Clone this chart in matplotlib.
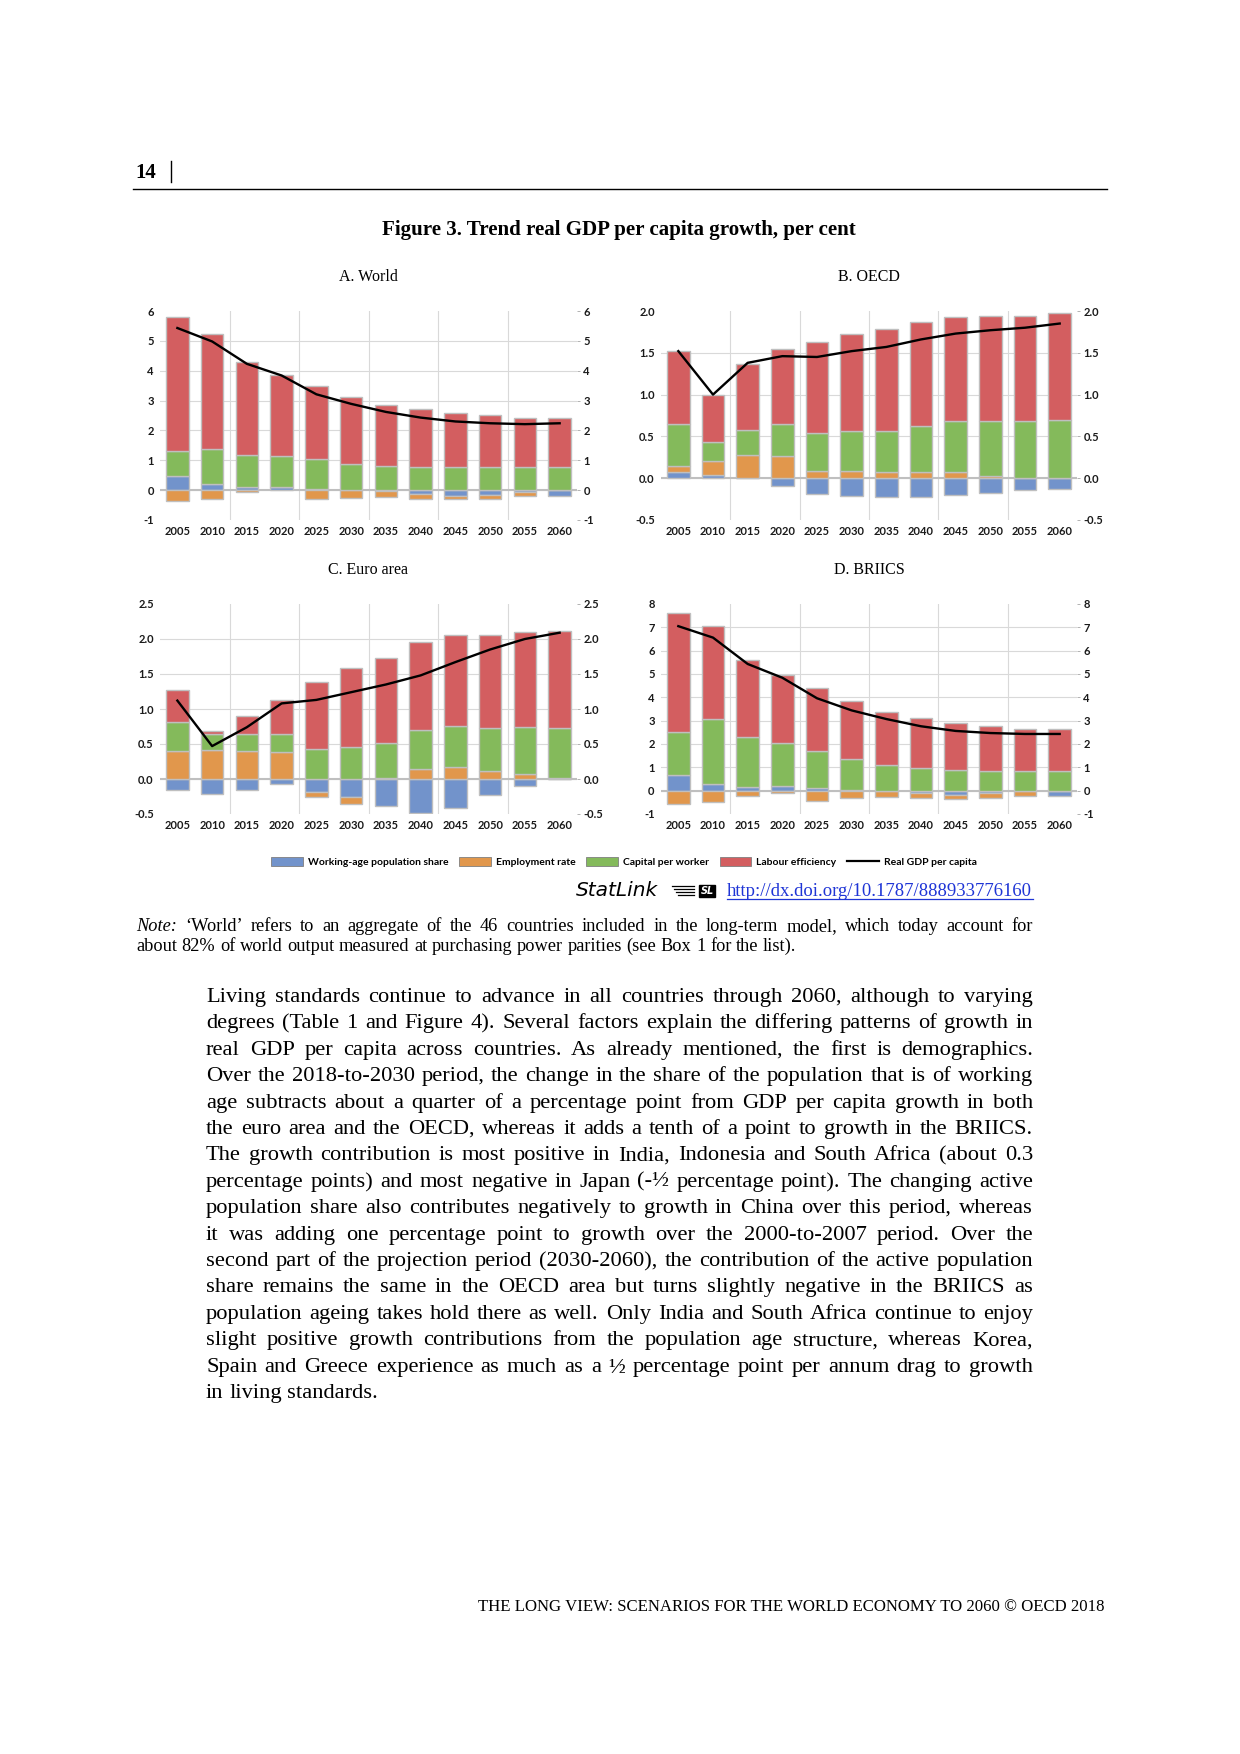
import numpy as np
import matplotlib
matplotlib.use("Agg")
import matplotlib.pyplot as plt
from matplotlib.lines import Line2D
from matplotlib.patches import Patch

plt.rcParams["axes.unicode_minus"] = False

# ---- data ----
years = ["2005", "2010", "2015", "2020", "2025", "2030",
         "2035", "2040", "2045", "2050", "2055", "2060"]

world_pop = [0.49, 0.21, 0.12, 0.11, 0.05, -0.01, -0.02, -0.13, -0.21, -0.15, -0.07, -0.21]
world_emp = [-0.38, -0.31, -0.07, 0.0, -0.30, -0.25, -0.22, -0.16, -0.10, -0.13, -0.14, 0.0]
world_cap = [0.83, 1.17, 1.07, 1.05, 1.00, 0.89, 0.82, 0.78, 0.76, 0.76, 0.76, 0.78]
world_lab = [4.48, 3.86, 3.11, 2.70, 2.44, 2.23, 2.03, 1.94, 1.83, 1.76, 1.66, 1.64]
world_gdp = [5.43, 4.98, 4.23, 3.84, 3.21, 2.89, 2.62, 2.43, 2.30, 2.24, 2.21, 2.24]

oecd_pop = [0.08, 0.04, 0.0, -0.09, -0.19, -0.21, -0.22, -0.22, -0.20, -0.18, -0.14, -0.13]
oecd_emp = [0.07, 0.17, 0.28, 0.26, 0.09, 0.09, 0.07, 0.08, 0.08, 0.03, 0.0, 0.0]
oecd_cap = [0.50, 0.22, 0.30, 0.39, 0.45, 0.47, 0.50, 0.55, 0.60, 0.65, 0.68, 0.70]
oecd_lab = [0.87, 0.56, 0.79, 0.90, 1.09, 1.17, 1.22, 1.24, 1.25, 1.26, 1.26, 1.28]
oecd_gdp = [1.52, 1.00, 1.38, 1.46, 1.45, 1.52, 1.57, 1.66, 1.73, 1.77, 1.80, 1.85]

euro_pop = [-0.16, -0.22, -0.16, -0.07, -0.19, -0.26, -0.39, -0.49, -0.42, -0.23, -0.10, 0.0]
euro_emp = [0.40, 0.42, 0.40, 0.38, -0.06, -0.09, 0.01, 0.15, 0.17, 0.11, 0.07, 0.02]
euro_cap = [0.42, 0.23, 0.25, 0.27, 0.43, 0.46, 0.51, 0.55, 0.59, 0.62, 0.67, 0.71]
euro_lab = [0.45, 0.03, 0.25, 0.48, 0.95, 1.12, 1.21, 1.25, 1.30, 1.33, 1.36, 1.38]
euro_gdp = [1.12, 0.47, 0.74, 1.08, 1.13, 1.24, 1.35, 1.48, 1.67, 1.85, 2.00, 2.09]

briics_pop = [0.66, 0.28, 0.14, 0.19, 0.10, 0.03, 0.0, -0.10, -0.20, -0.11, -0.03, -0.23]
briics_emp = [-0.57, -0.50, -0.23, -0.10, -0.46, -0.31, -0.29, -0.21, -0.17, -0.20, -0.20, 0.0]
briics_cap = [1.84, 2.79, 2.17, 1.87, 1.61, 1.34, 1.10, 0.99, 0.89, 0.84, 0.84, 0.84]
briics_lab = [5.10, 3.99, 3.29, 2.90, 2.70, 2.46, 2.29, 2.14, 2.02, 1.95, 1.82, 1.82]
briics_gdp = [7.05, 6.56, 5.43, 4.84, 3.96, 3.44, 3.07, 2.76, 2.56, 2.47, 2.43, 2.43]

world_ticks = [-1, 0, 1, 2, 3, 4, 5, 6]
oecd_ticks = [-0.5, 0.0, 0.5, 1.0, 1.5, 2.0]
euro_ticks = [-0.5, 0.0, 0.5, 1.0, 1.5, 2.0, 2.5]
briics_ticks = [-1, 0, 1, 2, 3, 4, 5, 6, 7, 8]

series_names = ["Working-age population share", "Employment rate",
                "Capital per worker", "Labour efficiency"]
line_name = "Real GDP per capita"
colors = ["#7293CB", "#E1974C", "#84BA5B", "#D35E60"]

body_lines = [
    "Living standards continue to advance in all countries through 2060, although to varying",
    "degrees (Table 1 and Figure 4). Several factors explain the differing patterns of growth in",
    "real GDP per capita across countries. As already mentioned, the first is demographics.",
    "Over the 2018-to-2030 period, the change in the share of the population that is of working",
    "age subtracts about a quarter of a percentage point from GDP per capita growth in both",
    "the euro area and the OECD, whereas it adds a tenth of a point to growth in the BRIICS.",
    "The growth contribution is most positive in India, Indonesia and South Africa (about 0.3",
    "percentage points) and most negative in Japan (-\u00bd percentage point). The changing active",
    "population share also contributes negatively to growth in China over this period, whereas",
    "it was adding one percentage point to growth over the 2000-to-2007 period. Over the",
    "second part of the projection period (2030-2060), the contribution of the active population",
    "share remains the same in the OECD area but turns slightly negative in the BRIICS as",
    "population ageing takes hold there as well. Only India and South Africa continue to enjoy",
    "slight positive growth contributions from the population age structure, whereas Korea,",
    "Spain and Greece experience as much as a \u00bd percentage point per annum drag to growth",
    "in living standards.",
]
note_lines = [
    "Note: \u2018World\u2019 refers to an aggregate of the 46 countries included in the long-term model, which today account for",
    "about 82% of world output measured at purchasing power parities (see Box 1 for the list).",
]

W, H = 1240, 1754
fig = plt.figure(figsize=(W / 100, H / 100), dpi=100)
renderer = fig.canvas.get_renderer()
SERIF = "Liberation Serif"
SANS = "Lato"


def fy(y):
    return 1 - y / H


def rect(x0, x1, ytop, ybot):
    return [x0 / W, fy(ybot), (x1 - x0) / W, (ybot - ytop) / H]


def fit(t, width):
    w = t.get_window_extent(renderer).width
    t.set_fontsize(t.get_fontsize() * width / w)


def draw_panel(r, title, comps, gdp, ticks, fmt):
    ax = fig.add_axes(r)
    x = np.arange(len(years))
    pos = np.zeros(len(years))
    neg = np.zeros(len(years))
    for vals, c in zip(comps, colors):
        v = np.array(vals)
        base = np.where(v >= 0, pos, neg)
        ax.bar(x, v, 0.65, bottom=base, color=c, edgecolor="#BFBFBF",
               linewidth=1.0, zorder=2)
        pos += np.where(v > 0, v, 0)
        neg += np.where(v < 0, v, 0)
    ax.plot(x, gdp, color="black", lw=1.7, zorder=4)

    ax.set_xlim(-0.5, len(years) - 0.5)
    ax.set_ylim(ticks[0], ticks[-1])
    for t in ticks[1:-1]:
        ax.axhline(t, color="#D9D9D9", lw=0.8, zorder=0)
    ax.axhline(0, color="#BFBFBF", lw=1.5, zorder=1)
    for v in np.arange(1.5, len(years) - 1, 2):
        ax.axvline(v, color="#D9D9D9", lw=0.8, zorder=0)

    ax.set_xticks(x, years, fontfamily=SANS, fontweight="bold", fontsize=8)
    ax.set_yticks(ticks, [fmt.format(t) for t in ticks],
                  fontfamily=SANS, fontweight="bold", fontsize=8)
    ax.tick_params(axis="x", length=0, pad=4, colors="#1A1A1A")
    ax.tick_params(axis="y", left=False, right=True, labelleft=True,
                   labelright=True, length=2.5, width=0.6, pad=2,
                   color="#A6A6A6", labelcolor="#1A1A1A")
    for s in ax.spines.values():
        s.set_visible(False)

    cx = r[0] + r[2] / 2
    fig.text(cx, fy(title[1]), title[0], ha="center", va="center",
             family=SERIF, fontsize=11.5)
    return ax


L0, L1 = 160, 577
R0, R1 = 661, 1077
draw_panel(rect(L0, L1, 311, 520), ("A. World", 277),
           [world_pop, world_emp, world_cap, world_lab], world_gdp, world_ticks, "{:.0f}")
draw_panel(rect(R0, R1, 311, 520), ("B. OECD", 277),
           [oecd_pop, oecd_emp, oecd_cap, oecd_lab], oecd_gdp, oecd_ticks, "{:.1f}")
draw_panel(rect(L0, L1, 604, 814), ("C. Euro area", 570),
           [euro_pop, euro_emp, euro_cap, euro_lab], euro_gdp, euro_ticks, "{:.1f}")
draw_panel(rect(R0, R1, 604, 814), ("D. BRIICS", 570),
           [briics_pop, briics_emp, briics_cap, briics_lab], briics_gdp, briics_ticks, "{:.0f}")

# legend
handles = [Patch(facecolor=c, edgecolor="#7F7F7F", lw=0.6) for c in colors]
handles.append(Line2D([], [], color="black", lw=1.6))
fig.legend(handles, series_names + [line_name], loc="center",
           bbox_to_anchor=(624 / W, fy(862)), ncol=5, frameon=False,
           prop={"family": SANS, "weight": "bold", "size": 7.5},
           handlelength=3.0, handleheight=0.9, handletextpad=0.5,
           columnspacing=1.05)

# page header
fig.text(135 / W, fy(178), "14", family=SERIF, weight="bold", fontsize=15,
         ha="left", va="baseline")
fig.add_artist(Line2D([171 / W, 171 / W], [fy(161), fy(182)], color="black", lw=1.0))
fig.add_artist(Line2D([133 / W, 1107 / W], [fy(189), fy(189)], color="black", lw=1.0))

t = fig.text(619 / W, fy(230), "Figure 3. Trend real GDP per capita growth, per cent",
             family=SERIF, weight="bold", fontsize=14, ha="center", va="center")
fit(t, 475)

# StatLink line
t = fig.text(576 / W, fy(896), "StatLink", family="DejaVu Sans", style="italic",
             fontsize=11, ha="left", va="baseline")
fit(t, 82)
for i, yy in enumerate([886, 889, 892, 895]):
    fig.add_artist(Line2D([(672 + 2 * i) / W, 694 / W], [fy(yy), fy(yy)],
                          color="black", lw=0.9))
fig.text(707 / W, fy(891), "SL", family="DejaVu Sans", weight="bold", style="italic",
         fontsize=7, color="white", ha="center", va="center",
         bbox=dict(boxstyle="square,pad=0.15", facecolor="black", edgecolor="black"))
t = fig.text(727 / W, fy(896), "http://dx.doi.org/10.1787/888933776160",
             family=SERIF, fontsize=14, color="#1F35D6", ha="left", va="baseline")
fit(t, 306)
fig.add_artist(Line2D([727 / W, 1033 / W], [fy(899), fy(899)], color="#1F35D6", lw=0.9))


def justified(lines, x0, x1, y0, dy, size, italic_first=False):
    space = size * 100 / 72 * 0.25
    for i, line in enumerate(lines):
        words = line.split(" ")
        items = []
        for j, w in enumerate(words):
            st = "italic" if (italic_first and i == 0 and j == 0) else "normal"
            items.append(fig.text(0, 0, w, family=SERIF, style=st, fontsize=size,
                                  ha="left", va="baseline"))
        widths = [it.get_window_extent(renderer).width for it in items]
        if i == len(lines) - 1:
            gap = space
        else:
            gap = (x1 - x0 - sum(widths)) / (len(words) - 1)
        x = x0
        for it, w in zip(items, widths):
            it.set_position((x / W, fy(y0 + i * dy)))
            x += w + gap


justified(note_lines, 136, 1033, 931, 20, 13.2, italic_first=True)
justified(body_lines, 206, 1033, 1002, 26.4, 16.2)

t = fig.text(1105 / W, fy(1611), "THE LONG VIEW: SCENARIOS FOR THE WORLD ECONOMY TO 2060 \u00a9 OECD 2018",
             family=SERIF, fontsize=11, ha="right", va="baseline")
fit(t, 628)

fig.savefig("out.png", dpi=100)
